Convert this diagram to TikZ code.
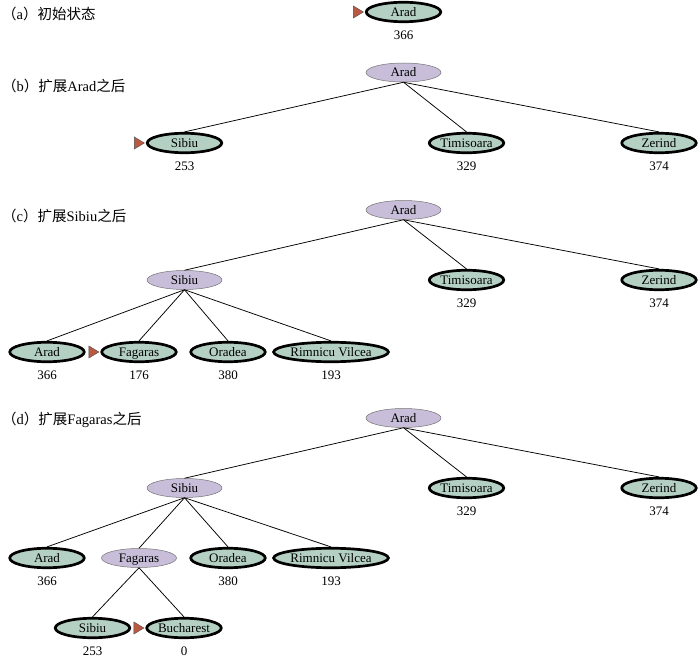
\documentclass[tikz,border=0pt]{standalone}
\usepackage{fontspec}
\setmainfont{Liberation Serif}
\newfontfamily\cjk{Noto Sans CJK SC}
\usetikzlibrary{shapes,       % ellipse
                positioning,  % below=... of
                calc}
\definecolor{leafgreen}{RGB}{180,208,195}
\definecolor{openpurple}{RGB}{200,190,217}
\definecolor{markbrown}{RGB}{186,88,66}

\begin{document}
\begin{tikzpicture}[x=1pt,y=-1pt]
                % define styles
\tikzset{leaf/.style={ellipse,
                      draw=black,
                      fill=leafgreen,
                      line width=2.7pt,
                      inner sep=0,
                      text height=8.8pt,
                      text depth=0.4pt,
                      minimum width=74.5pt,
                      minimum height=19.5pt,
                      font=\fontsize{13}{15}\selectfont
                      },
         expanded/.style={ellipse,
                      draw=black!55,
                      fill=openpurple,
                      line width=0.5pt,
                      inner sep=0,
                      text height=8.8pt,
                      text depth=0.4pt,
                      minimum width=75pt,
                      minimum height=19pt,
                      font=\fontsize{13}{15}\selectfont
                      },
         hval/.style={inner sep=0,
                      below=7.5pt of #1,
                      font=\fontsize{13}{15}\selectfont
                      },
         caption/.style={anchor=west,
                      inner sep=0,
                      font=\fontsize{14.5}{16}\selectfont
                      },
         edge/.style={line width=0.75pt},
         marker/.style={draw=black!70,
                      fill=markbrown,
                      line width=0.4pt}
}

\useasboundingbox (0,0) rectangle (699,658);

% (a) initial state
\node[caption] (cap-a) at (2,14)  {{\cjk （}a{\cjk ）初始状态}};
\node[leaf]    (a-arad) at (403.5,12) {Arad};
\node[hval=a-arad] (a-arad-h) {366};
\draw[marker] ([xshift=-1.5pt]a-arad.west) -- ++(-10,-6) -- ++(0,12) -- cycle;

% (b) after expanding Arad
\node[caption]  (cap-b) at (2,86) {{\cjk （}b{\cjk ）扩展}Arad{\cjk 之后}};
\node[expanded] (b-arad)      at (403.5,72.5) {Arad};
\node[leaf]     (b-sibiu)     at (184.5,143)  {Sibiu};
\node[leaf]     (b-timisoara) at (466.5,143)  {Timisoara};
\node[leaf]     (b-zerind)    at (659,143)    {Zerind};
\foreach \name/\h in {sibiu/253, timisoara/329, zerind/374}
    \node[hval=b-\name] (b-\name-h) {\h};
\foreach \name in {sibiu, timisoara, zerind}
    \draw[edge] (b-arad.south) -- (b-\name.north);
\draw[marker] ([xshift=-1.5pt]b-sibiu.west) -- ++(-10,-6) -- ++(0,12) -- cycle;

% (c) after expanding Sibiu
\node[caption]  (cap-c) at (2,216) {{\cjk （}c{\cjk ）扩展}Sibiu{\cjk 之后}};
\node[expanded] (c-arad)      at (403.5,210) {Arad};
\node[expanded] (c-sibiu)     at (184.5,280) {Sibiu};
\node[leaf]     (c-timisoara) at (466.5,280) {Timisoara};
\node[leaf]     (c-zerind)    at (659,280)   {Zerind};
\node[leaf]     (c-arad2)     at (47,352)    {Arad};
\node[leaf]     (c-fagaras)   at (139,352)   {Fagaras};
\node[leaf]     (c-oradea)    at (228,352)   {Oradea};
\node[leaf,minimum width=110pt] (c-rimnicu) at (331,352) {Rimnicu Vilcea};
\foreach \name/\h in {timisoara/329, zerind/374, arad2/366, fagaras/176, oradea/380, rimnicu/193}
    \node[hval=c-\name] (c-\name-h) {\h};
\foreach \name in {sibiu, timisoara, zerind}
    \draw[edge] (c-arad.south) -- (c-\name.north);
\foreach \name in {arad2, fagaras, oradea, rimnicu}
    \draw[edge] (c-sibiu.south) -- (c-\name.north);
\draw[marker] ([xshift=-1.5pt]c-fagaras.west) -- ++(-10,-6) -- ++(0,12) -- cycle;

% (d) after expanding Fagaras
\node[caption]  (cap-d) at (2,420) {{\cjk （}d{\cjk ）扩展}Fagaras{\cjk 之后}};
\node[expanded] (d-arad)      at (403.5,418) {Arad};
\node[expanded] (d-sibiu)     at (184.5,488) {Sibiu};
\node[leaf]     (d-timisoara) at (466.5,488) {Timisoara};
\node[leaf]     (d-zerind)    at (659,488)   {Zerind};
\node[leaf]     (d-arad2)     at (47,558)    {Arad};
\node[expanded] (d-fagaras)   at (139,558)   {Fagaras};
\node[leaf]     (d-oradea)    at (228,558)   {Oradea};
\node[leaf,minimum width=110pt] (d-rimnicu) at (331,558) {Rimnicu Vilcea};
\node[leaf]     (d-sibiu2)    at (92.5,628)  {Sibiu};
\node[leaf]     (d-bucharest) at (184,628)   {Bucharest};
\foreach \name/\h in {timisoara/329, zerind/374, arad2/366, oradea/380, rimnicu/193, sibiu2/253, bucharest/0}
    \node[hval=d-\name] (d-\name-h) {\h};
\foreach \name in {sibiu, timisoara, zerind}
    \draw[edge] (d-arad.south) -- (d-\name.north);
\foreach \name in {arad2, fagaras, oradea, rimnicu}
    \draw[edge] (d-sibiu.south) -- (d-\name.north);
\foreach \name in {sibiu2, bucharest}
    \draw[edge] (d-fagaras.south) -- (d-\name.north);
\draw[marker] ([xshift=-1.5pt]d-bucharest.west) -- ++(-10,-6) -- ++(0,12) -- cycle;

\end{tikzpicture}
\end{document}
